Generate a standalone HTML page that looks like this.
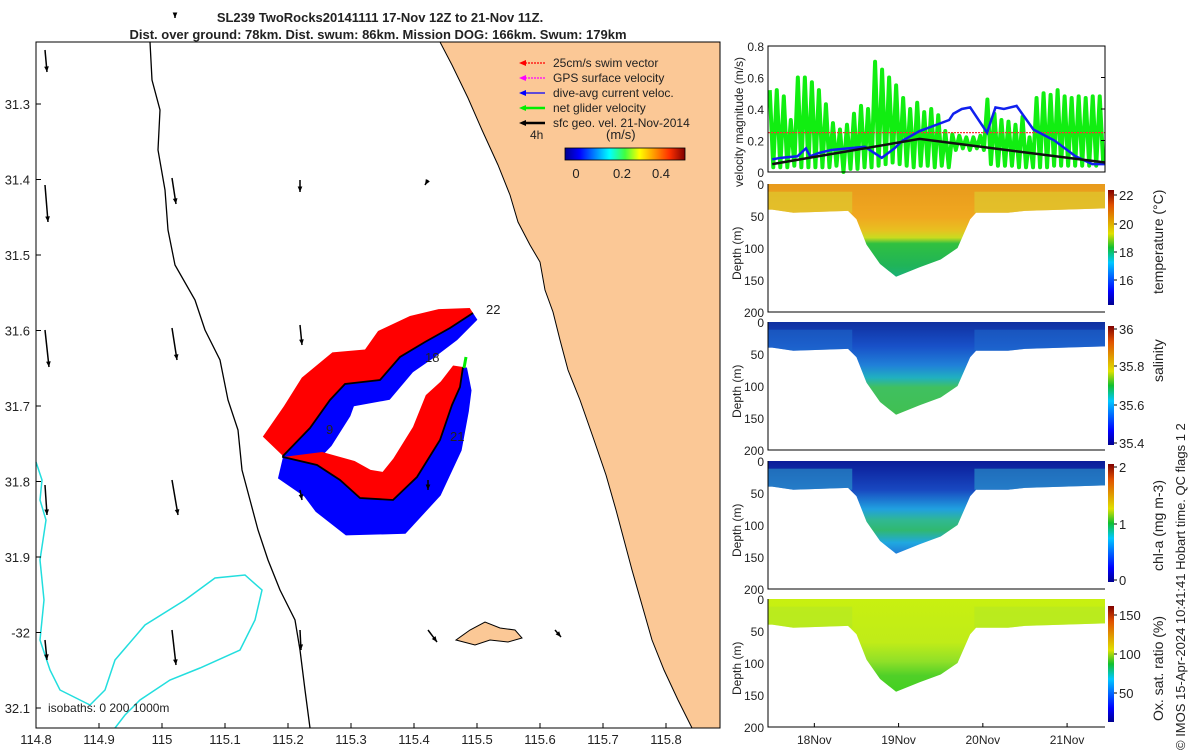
<!DOCTYPE html>
<html><head><meta charset="utf-8">
<style>
body{margin:0;background:#fff;width:1200px;height:750px;overflow:hidden;font-family:"Liberation Sans",sans-serif}
svg text{font-family:"Liberation Sans",sans-serif;fill:#222}
</style></head>
<body>
<svg id="fig" width="1200" height="750" viewBox="0 0 1200 750" xmlns="http://www.w3.org/2000/svg">
<defs>
<linearGradient id="jetH" x1="0" x2="1" y1="0" y2="0">
<stop offset="0" stop-color="#00008f"/><stop offset="0.12" stop-color="#0000ff"/><stop offset="0.37" stop-color="#00ffff"/><stop offset="0.5" stop-color="#40ff40"/><stop offset="0.62" stop-color="#ffff00"/><stop offset="0.87" stop-color="#ff3000"/><stop offset="1" stop-color="#800000"/></linearGradient>
<linearGradient id="jetV" x1="0" x2="0" y1="1" y2="0">
<stop offset="0" stop-color="#00008f"/><stop offset="0.12" stop-color="#0000ff"/><stop offset="0.37" stop-color="#00c8ff"/><stop offset="0.5" stop-color="#10c030"/><stop offset="0.62" stop-color="#e0e000"/><stop offset="0.87" stop-color="#e05000"/><stop offset="1" stop-color="#800000"/></linearGradient>
<linearGradient id="gT" x1="0" x2="0" y1="0" y2="1"><stop offset="0" stop-color="#e89a1c"/><stop offset="0.35" stop-color="#f0a820"/><stop offset="0.48" stop-color="#e8c020"/><stop offset="0.56" stop-color="#c8dc20"/><stop offset="0.62" stop-color="#30c040"/><stop offset="0.85" stop-color="#20b458"/><stop offset="1" stop-color="#18b080"/></linearGradient>
<linearGradient id="gS" x1="0" x2="0" y1="0" y2="1"><stop offset="0" stop-color="#1030a0"/><stop offset="0.25" stop-color="#1850c8"/><stop offset="0.45" stop-color="#2080d8"/><stop offset="0.58" stop-color="#20b0c0"/><stop offset="0.68" stop-color="#40c060"/><stop offset="1" stop-color="#40c050"/></linearGradient>
<linearGradient id="gC" x1="0" x2="0" y1="0" y2="1"><stop offset="0" stop-color="#0a1c98"/><stop offset="0.3" stop-color="#1848c0"/><stop offset="0.5" stop-color="#20a0e0"/><stop offset="0.62" stop-color="#30b890"/><stop offset="0.72" stop-color="#30b870"/><stop offset="0.85" stop-color="#20a8e0"/><stop offset="1" stop-color="#2070d8"/></linearGradient>
<linearGradient id="gO" x1="0" x2="0" y1="0" y2="1"><stop offset="0" stop-color="#c8f010"/><stop offset="0.45" stop-color="#c0ec18"/><stop offset="0.65" stop-color="#90e028"/><stop offset="0.8" stop-color="#50d028"/><stop offset="1" stop-color="#40d020"/></linearGradient>
</defs>
<g id="title">
<text x="380" y="22" font-size="13" font-weight="bold" text-anchor="middle">SL239 TwoRocks20141111 17-Nov 12Z to 21-Nov 11Z.</text>
<text x="378" y="39" font-size="13" font-weight="bold" text-anchor="middle">Dist. over ground: 78km. Dist. swum: 86km. Mission DOG: 166km. Swum: 179km</text>
</g>
<g id="map"></g>
<g id="right"></g>
<text transform="translate(1185,750) rotate(-90)" x="0" y="0" font-size="13">© IMOS 15-Apr-2024 10:41:41 Hobart time. QC flags 1  2</text>
</svg>
<script>
// ---- map data ----
const lonTicks=[114.8,114.9,115,115.1,115.2,115.3,115.4,115.5,115.6,115.7,115.8];
const latTicks=[31.3,31.4,31.5,31.6,31.7,31.8,31.9,32,32.1];
const latLabels=["31.3","31.4","31.5","31.6","31.7","31.8","31.9","-32","32.1"];
// ---- velocity data ----
const greenPeaks=[0.52,0.52,0.48,0.33,0.6,0.6,0.57,0.52,0.43,0.31,0.27,0.3,0.37,0.42,0.4,0.7,0.65,0.6,0.55,0.47,0.4,0.44,0.38,0.4,0.36,0.26,0.24,0.23,0.22,0.22,0.23,0.46,0.37,0.33,0.32,0.3,0.35,0.22,0.47,0.5,0.49,0.52,0.48,0.47,0.48,0.47,0.48,0.48];
const greenTroughs=[0.03,0.03,0.03,0.04,0.03,0.03,0.03,0.03,0.03,0.04,0.0,0.02,0.02,0.03,0.03,0.04,0.05,0.06,0.05,0.04,0.03,0.04,0.04,0.03,0.04,0.03,0.14,0.15,0.14,0.15,0.14,0.05,0.04,0.04,0.04,0.03,0.03,0.03,0.03,0.03,0.04,0.04,0.04,0.04,0.04,0.04,0.04,0.05];
const blueTimes=[0,0.1,0.3,0.4,0.45,0.55,0.7,0.9,1.1,1.3,1.45,1.55,1.75,1.95,2.1,2.15,2.25,2.35,2.55,2.65,2.75,2.9,3.1,3.35,3.6,3.8,3.95];
const blueVals=[0.08,0.09,0.1,0.15,0.1,0.12,0.14,0.15,0.16,0.09,0.15,0.2,0.26,0.3,0.33,0.37,0.4,0.41,0.25,0.41,0.4,0.42,0.27,0.2,0.1,0.05,0.05];
const blackTimes=[0,1.75,3.95];
const blackVals=[0.05,0.21,0.06];
const swimRef=0.25;
// ---- section data ----
const profTimes=[0,0.25,0.9,1.0,1.12,1.28,1.47,1.75,2.0,2.2,2.35,2.42,2.8,3.0,3.95];
const bottomDepth=[40,45,42,55,95,125,145,130,118,100,55,45,45,42,38];
const velTicks=[0,0.2,0.4,0.6,0.8];
const depthTicks=[0,50,100,150,200];
const dayLabels=["18Nov","19Nov","20Nov","21Nov"];
const dayTimes=[0.5,1.5,2.5,3.5];

const NS="http://www.w3.org/2000/svg";
function mk(p,t,a,txt){const e=document.createElementNS(NS,t);for(const k in a)e.setAttribute(k,a[k]);if(txt!==undefined)e.textContent=txt;p.appendChild(e);return e;}
const map=document.getElementById('map');
const MX0=36,MX1=720,MY0=42,MY1=728;
const lx=v=>36+(v-114.8)*630;
const ly=v=>104+(v-31.3)*755;

let land=mk(map,'polygon',{points:"440,42 452,65 468,98 482,130 498,165 510,195 518,222 530,245 540,262 545,290 553,312 560,340 568,370 580,400 594,440 606,475 616,510 624,540 632,570 642,605 652,640 664,670 678,700 692,728 720,728 720,42",fill:"#fbc896",stroke:"#000","stroke-width":1});


let isl=mk(map,'path',{d:"M456,640 L470,630 L485,622 L500,628 L515,630 L522,638 L508,642 L490,640 L475,645 Z",fill:"#fbc896",stroke:"#000","stroke-width":1});


let iso=mk(map,'polyline',{points:"150,42 152,80 160,110 158,150 165,190 168,230 175,265 195,300 205,330 220,360 228,400 238,430 242,470 250,500 258,530 268,560 280,590 295,620 300,650 305,690 310,728",fill:"none",stroke:"#000","stroke-width":1.3});


let iso2=mk(map,'polyline',{points:"36,462 42,480 40,500 46,520 40,560 44,600 40,640 50,670 60,690 90,705 105,690 115,660 145,625 185,600 215,578 245,575 262,590 255,620 240,650 200,668 170,680 140,700 125,715 115,728",fill:"none",stroke:"#22dede","stroke-width":1.5});



const north=[[473,313],[450,328],[425,342],[400,357],[380,380],[345,384],[330,400],[310,428],[283,456]];
const south=[[283,457],[317,465],[340,480],[360,498],[393,500],[417,477],[440,440],[452,405],[460,387],[463,367]];
const redN=[6,22,30,34,34,34,36,34,28];
const blueN=[8,14,18,20,22,24,26,28,28];
const redS=[0,14,24,30,30,30,30,28,20,10];
const blueS=[22,34,40,40,36,30,24,18,12,4];
function ribbon(pts,off,sgn){const L=[],Rr=[];for(let i=0;i<pts.length;i++){const a=pts[Math.max(0,i-1)],b=pts[Math.min(pts.length-1,i+1)];let dx=b[0]-a[0],dy=b[1]-a[1];const l=Math.hypot(dx,dy);dx/=l;dy/=l;const nx=dy,ny=-dx;const o=off[i]*sgn;L.push(pts[i][0]+","+pts[i][1]);Rr.push((pts[i][0]+nx*o)+","+(pts[i][1]+ny*o));}return L.concat(Rr.reverse()).join(" ");}
let rn=mk(map,'polygon',{points:ribbon(north,redN,-1),fill:"#ff0000"});
let bn=mk(map,'polygon',{points:ribbon(north,blueN,1),fill:"#0000ff"});
let rs=mk(map,'polygon',{points:ribbon(south,redS,1),fill:"#ff0000"});
let bs=mk(map,'polygon',{points:ribbon(south,blueS,-1),fill:"#0000ff"});
let tr=mk(map,'polyline',{points:north.concat(south).map(p=>p.join(",")).join(" "),fill:"none",stroke:"#000","stroke-width":1.8});


mk(map,'line',{x1:464,y1:368,x2:466,y2:357,stroke:"#00ee00","stroke-width":3});
[["22",486,314],["18",425,362],["9",326,434],["21",450,441]].forEach(d=>{let t=mk(map,'text',{x:d[1],y:d[2],"font-size":13},d[0]);});
const arrows=[[45,50,47,72],[172,178,176,204],[300,180,300,192],[428,180,425,185],[45,185,48,222],[172,328,177,360],[300,325,302,345],[45,330,49,367],[172,480,178,515],[300,490,302,500],[428,480,428,490],[45,485,47,515],[172,630,176,665],[300,630,301,650],[428,630,437,642],[555,630,561,637],[45,640,47,660],[175,15,175,18]];
arrows.forEach(a=>{let g=mk(map,'g',{});
mk(g,'line',{x1:a[0],y1:a[1],x2:a[2],y2:a[3],stroke:"#000","stroke-width":1.5});
const ang=Math.atan2(a[3]-a[1],a[2]-a[0]);const h=6;
mk(g,'polygon',{points:`${a[2]},${a[3]} ${a[2]-h*Math.cos(ang-0.4)},${a[3]-h*Math.sin(ang-0.4)} ${a[2]-h*Math.cos(ang+0.4)},${a[3]-h*Math.sin(ang+0.4)}`,fill:"#000"});});
let fr=mk(map,'rect',{x:MX0,y:MY0,width:MX1-MX0,height:MY1-MY0,fill:"none",stroke:"#000","stroke-width":1});

lonTicks.forEach(v=>{let t=mk(map,'text',{x:lx(v),y:744,"font-size":13,"text-anchor":"middle"},String(v));
mk(map,'line',{x1:lx(v),y1:MY1,x2:lx(v),y2:MY1-5,stroke:"#000"});});
latTicks.forEach((v,i)=>{let t=mk(map,'text',{x:30,y:ly(v)+5,"font-size":13,"text-anchor":"end"},latLabels[i]);
mk(map,'line',{x1:MX0,y1:ly(v),x2:MX0+5,y2:ly(v),stroke:"#000"});});
let isoT=mk(map,'text',{x:48,y:712,"font-size":12},"isobaths: 0   200  1000m");
const leg=mk(map,'g',{});
[["25cm/s swim vector","#ff0000"],["GPS surface velocity","#ff00ff"],["dive-avg current veloc.","#0000ff"],["net glider velocity","#00ee00"],["sfc geo. vel. 21-Nov-2014","#000"]].forEach((d,i)=>{const y=63+i*15;
let g=mk(leg,'g',{});
mk(g,'line',{x1:522,y1:y,x2:545,y2:y,stroke:d[1],"stroke-width":i==3||i==4?2.5:1.2,"stroke-dasharray":i<2?"2,1":"none"});
mk(g,'polygon',{points:`${519},${y} ${526},${y-3} ${526},${y+3}`,fill:d[1]});
mk(g,'text',{x:553,y:y+4,"font-size":12},d[0]);});
mk(leg,'text',{x:530,y:139,"font-size":12},"4h");
mk(leg,'text',{x:606,y:139,"font-size":13},"(m/s)");
let cb=mk(leg,'rect',{x:565,y:148,width:120,height:12,fill:"url(#jetH)",stroke:"#000","stroke-width":0.8});
[["0",576],["0.2",622],["0.4",661]].forEach(d=>mk(leg,'text',{x:d[1],y:178,"font-size":13,"text-anchor":"middle"},d[0]));

const R=document.getElementById('right');
const TX0=768,TX1=1105,T0=-0.05,T1=3.95;
const tx=t=>TX0+(t-T0)/(T1-T0)*(TX1-TX0);
const VY0=46,VY1=172;
const vy=v=>VY1-v/0.8*(VY1-VY0);
const vp=mk(R,'g',{});
let gpts=[];const n=greenPeaks.length;
for(let i=0;i<n;i++){const tp=T0+(i+0.25)/n*(T1-T0);const tt=T0+(i+0.75)/n*(T1-T0);gpts.push(tx(tp)+","+vy(greenPeaks[i]));gpts.push(tx(tt)+","+vy(greenTroughs[i]));}
let gl=mk(vp,'polyline',{points:gpts.join(" "),fill:"none",stroke:"#11ee11","stroke-width":4,"stroke-linejoin":"round"});
let rl=mk(vp,'line',{x1:tx(T0),x2:tx(T1),y1:vy(swimRef),y2:vy(swimRef),stroke:"#ff3030","stroke-width":1.2,"stroke-dasharray":"2,1"});
let bl=mk(vp,'polyline',{points:blueTimes.map((t,i)=>tx(t)+","+vy(blueVals[i])).join(" "),fill:"none",stroke:"#1020ee","stroke-width":2.5});
let kl=mk(vp,'polyline',{points:blackTimes.map((t,i)=>tx(t)+","+vy(blackVals[i])).join(" "),fill:"none",stroke:"#111","stroke-width":2.5});
mk(vp,'rect',{x:TX0,y:VY0,width:TX1-TX0,height:VY1-VY0,fill:"none",stroke:"#000"});
velTicks.forEach(v=>{mk(vp,'text',{x:TX0-4,y:vy(v)+5,"font-size":12,"text-anchor":"end"},v===0?"0":String(v));mk(vp,'line',{x1:TX1,x2:TX1-4,y1:vy(v),y2:vy(v),stroke:"#000"});});
let vyl=mk(vp,'text',{transform:`translate(743,${(VY0+VY1)/2+78}) rotate(-90)`,"font-size":12},"velocity magnitude (m/s)");

const panels=[
 {y0:184,name:"temperature-section",label:"temperature (°C)",ticks:[["22",195],["20",224],["18",252],["16",280]],cb:[190,305],grad:"gT",edge:"#dcd030",eop:0.6},
 {y0:322,name:"salinity-section",label:"salinity",ticks:[["36",329],["35.8",366],["35.6",405],["35.4",443]],cb:[326,445],grad:"gS",edge:"#2070d0",eop:0.5},
 {y0:461,name:"chlorophyll-section",label:"chl-a (mg m-3)",ticks:[["2",467],["1",524],["0",580]],cb:[464,582],grad:"gC",edge:"#30a8d0",eop:0.55},
 {y0:599,name:"oxygen-section",label:"Ox. sat. ratio (%)",ticks:[["150",615],["100",654],["50",693]],cb:[606,722],grad:"gO",edge:"#b0e828",eop:0.5}
];
panels.forEach(p=>{
 const g=mk(R,'g',{});
 const dy=d=>p.y0+d/200*128;
 const pts=[tx(T0)+","+dy(0),tx(T1)+","+dy(0)];
 for(let i=profTimes.length-1;i>=0;i--)pts.push(tx(profTimes[i])+","+dy(bottomDepth[i]));
 pts.push(tx(T0)+","+dy(bottomDepth[0]));
 const id="clip"+p.y0;
 const cp=mk(g,'clipPath',{id:id});mk(cp,'polygon',{points:pts.join(" ")});
 const inner=mk(g,'g',{"clip-path":`url(#${id})`});
 mk(inner,'rect',{x:TX0,y:dy(0),width:TX1-TX0,height:dy(150)-dy(0),fill:`url(#${p.grad})`});
 mk(inner,'rect',{x:TX0,y:dy(12),width:tx(0.95)-TX0,height:dy(45)-dy(12),fill:p.edge,opacity:p.eop});
 mk(inner,'rect',{x:tx(2.4),y:dy(12),width:TX1-tx(2.4),height:dy(45)-dy(12),fill:p.edge,opacity:p.eop});
 mk(g,'polyline',{points:`${TX0},${p.y0} ${TX0},${p.y0+128} ${TX1},${p.y0+128}`,fill:"none",stroke:"#000"});
 depthTicks.forEach(d=>{mk(g,'text',{x:TX0-4,y:dy(d)+5,"font-size":12,"text-anchor":"end"},String(d));});
 let yt=mk(g,'text',{transform:`translate(741,${p.y0+96}) rotate(-90)`,"font-size":12},"Depth (m)");
 let c=mk(g,'rect',{x:1108,y:p.cb[0],width:6,height:p.cb[1]-p.cb[0],fill:"url(#jetV)"});
 p.ticks.forEach(t=>{mk(g,'text',{x:1119,y:t[1]+5,"font-size":13},t[0]);mk(g,'line',{x1:1114,x2:1117,y1:t[1],y2:t[1],stroke:"#000"});});
 let cl=mk(g,'text',{transform:`translate(1163,${p.y0+(p.name==="salinity-section"?60:p.name==="oxygen-section"?122:110)}) rotate(-90)`,"font-size":14},p.label);
});
dayLabels.forEach((d,i)=>{let t=mk(R,'text',{x:tx(dayTimes[i]),y:744,"font-size":12,"text-anchor":"middle"},d);mk(R,'line',{x1:tx(dayTimes[i]),x2:tx(dayTimes[i]),y1:727,y2:723,stroke:"#000"});});
</script>
</body></html>
